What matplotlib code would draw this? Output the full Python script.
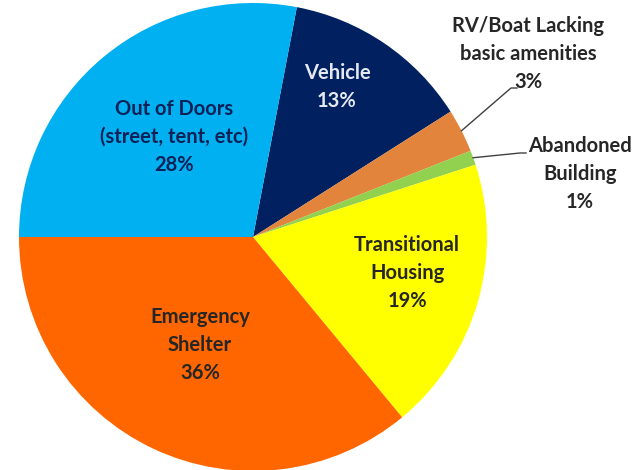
import numpy as np
import matplotlib.pyplot as plt

# shelter types, clockwise from the top
categories = ["Vehicle", "RV/Boat Lacking\nbasic amenities", "Abandoned\nBuilding",
              "Transitional\nHousing", "Emergency\nShelter", "Out of Doors\n(street, tent, etc)"]
shares = [13, 3, 1, 19, 36, 28]
colors = ["#002060", "#E2843C", "#92D050", "#FFFF00", "#FF6600", "#00B0F0"]
text_colors = ["#E6E8F0", "#262626", "#262626", "#262626", "#262626", "#0B2157"]

# label centres in pixel space (x, y from top)
label_pos = [(337, 87), (528, 54), (580, 174), (407, 273), (200, 345), (174, 137)]
# elbow of the leader line for the two outside labels
elbow = {1: (511, 88), 2: (520, 153)}

W, H = 642, 470
cx, cy, r = 253, 233, 234

fig = plt.figure(figsize=(W / 100, H / 100), dpi=100)
ax = fig.add_axes([0, 0, 1, 1])

# last wedge (Out of Doors) closes at the 9 o'clock position
start = 180 - 360 * shares[-1] / sum(shares)
wedges, _ = ax.pie(shares, colors=colors, startangle=start, counterclock=False,
                   center=(cx, cy), radius=r, frame=True,
                   wedgeprops=dict(linewidth=0))
ax.set_xlim(0, W)
ax.set_ylim(0, H)
ax.set_aspect("equal")
ax.axis("off")

for i, (name, val) in enumerate(zip(categories, shares)):
    x, y = label_pos[i]
    ax.text(x, H - y, f"{name}\n{val}%", ha="center", va="center",
            fontsize=14.5, fontweight="bold", family="Lato",
            color=text_colors[i], linespacing=1.5)
    if i in elbow:
        w = wedges[i]
        mid = np.deg2rad((w.theta1 + w.theta2) / 2)
        ex, ey = cx + r * np.cos(mid), cy + r * np.sin(mid)
        bx, by = elbow[i]
        ax.plot([ex, bx, bx + 6], [ey, H - by, H - by], color="#404040", lw=1)

fig.savefig("out.png", dpi=100)
